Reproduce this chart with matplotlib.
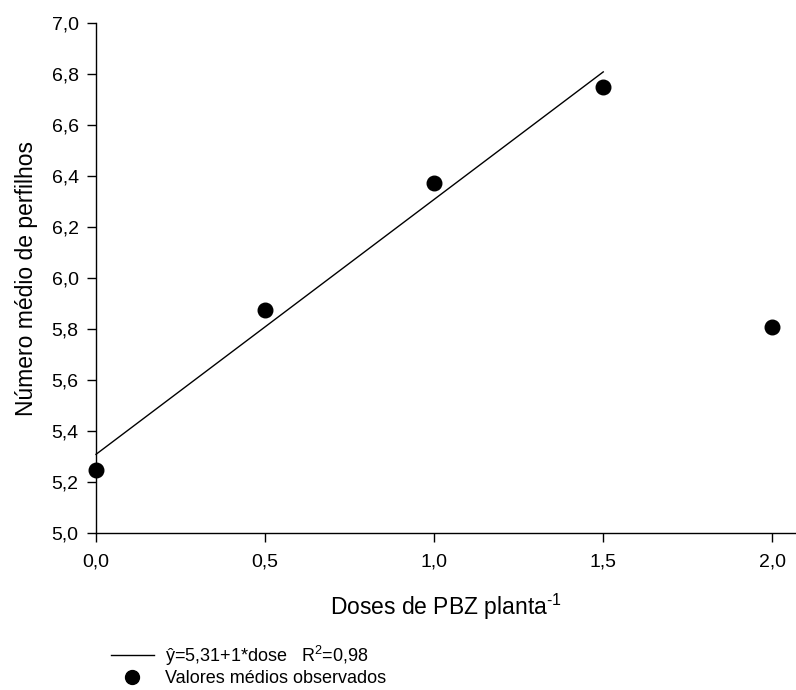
import matplotlib
matplotlib.use("Agg")
import numpy as np
import matplotlib.pyplot as plt
from matplotlib.lines import Line2D

# observed means
doses = [0.0, 0.5, 1.0, 1.5, 2.0]
perfilhos = [5.25, 5.875, 6.375, 6.75, 5.81]

# fitted line y = 5.31 + 1*dose, drawn over 0..1.5
fit_a = 5.31
fit_b = 1.0
fit_x = [0.0, 1.5]

x_ticks = [0.0, 0.5, 1.0, 1.5, 2.0]
x_labels = ["0,0", "0,5", "1,0", "1,5", "2,0"]
y_ticks = [5.0, 5.2, 5.4, 5.6, 5.8, 6.0, 6.2, 6.4, 6.6, 6.8, 7.0]
y_labels = ["5,0", "5,2", "5,4", "5,6", "5,8", "6,0", "6,2", "6,4", "6,6", "6,8", "7,0"]

plt.rcParams["font.family"] = ["Liberation Sans", "DejaVu Sans"]
plt.rcParams["mathtext.fontset"] = "custom"
plt.rcParams["mathtext.rm"] = "Liberation Sans"
plt.rcParams["mathtext.it"] = "Liberation Sans"
plt.rcParams["mathtext.default"] = "regular"

fig = plt.figure(figsize=(7.96, 6.90), dpi=100)
ax = fig.add_axes([0.1206, 0.227, 0.8794, 0.739])

fx = np.array(fit_x)
ax.plot(fx, fit_a + fit_b * fx, color="black", lw=1.0, clip_on=False)
ax.scatter(doses, perfilhos, s=110, color="black", zorder=3, clip_on=False)

ax.set_xlim(0, 2.07)
ax.set_ylim(5.0, 7.0)
ax.set_xticks(x_ticks)
ax.set_xticklabels(x_labels)
ax.set_yticks(y_ticks)
ax.set_yticklabels(y_labels)
ax.tick_params(direction="out", length=6.5, width=1, labelsize=14, pad=6)
ax.tick_params(axis="x", pad=8)

for s in ["top", "right"]:
    ax.spines[s].set_visible(False)
for s in ["left", "bottom"]:
    ax.spines[s].set_linewidth(1.0)

ax.set_xlabel("Doses de PBZ planta$^{\\text{-}1}$", fontsize=16.5, labelpad=15)
ax.set_ylabel("Número médio de perfilhos", fontsize=16.5, labelpad=10)

handles = [Line2D([], [], color="black", lw=1.0),
           Line2D([], [], color="black", marker="o", ls="none", markersize=10)]
labels = ["ŷ=5,31+1*dose   R$^2$=0,98", "Valores médios observados"]
fig.legend(handles, labels, loc="upper left", bbox_to_anchor=(0.13, 0.078),
           frameon=False, fontsize=13, handlelength=2.4, handletextpad=0.6,
           labelspacing=0.15, borderaxespad=0)

fig.savefig("out.png", dpi=100)
